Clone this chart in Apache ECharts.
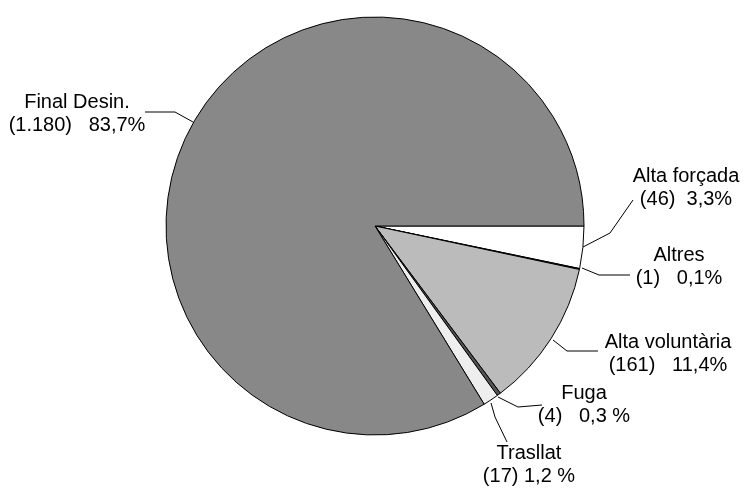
<!DOCTYPE html>
<html>
<head>
<meta charset="utf-8">
<script src="https://cdn.jsdelivr.net/npm/echarts@6/dist/echarts.min.js"></script>
<style>
  html, body { margin: 0; padding: 0; background: #fff; }
  #chart { width: 747px; height: 488px; }
</style>
</head>
<body>
<div id="chart"></div>
<script>
// categories in clockwise order starting at 3 o'clock
const names = ['Alta forçada', 'Altres', 'Alta voluntària', 'Fuga', 'Trasllat', 'Final Desin.'];
const counts = [46, 1, 161, 4, 17, 1180];
const countLabels = ['(46)', '(1)', '(161)', '(4)', '(17)', '(1.180)'];
const pctLabels = ['3,3%', '0,1%', '11,4%', '0,3 %', '1,2 %', '83,7%'];
const gaps = ['  ', '   ', '   ', '   ', ' ', '   '];
const colors = ['#ffffff', '#333333', '#bbbbbb', '#555555', '#eeeeee', '#888888'];

// label placement (centre of text block) and leader line bends
const labelPos = [
    { x: 686, y: 188, line: [[583, 247], [610, 233], [633, 200]] },
    { x: 679, y: 267, line: [[582, 268], [599, 275], [630, 275]] },
    { x: 668, y: 354, line: [[553, 340], [567, 351], [598, 351]] },
    { x: 584, y: 405, line: [[498, 397], [518, 407], [542, 405]] },
    { x: 529, y: 465, line: [[491, 403], [495, 417], [507, 442]] },
    { x: 77, y: 114, line: [[193, 122], [175, 112], [145, 112]] }
];

const chart = echarts.init(document.getElementById('chart'));

const seriesData = names.map((n, i) => ({
    name: n,
    value: counts[i],
    itemStyle: { color: colors[i] }
}));

chart.setOption({
    animation: false,
    textStyle: { fontFamily: 'Liberation Sans, Arial, sans-serif' },
    series: [{
        type: 'pie',
        center: [375, 226],
        radius: 209,
        startAngle: 0,
        clockwise: true,
        minAngle: 0,
        avoidLabelOverlap: false,
        data: seriesData,
        itemStyle: { borderColor: '#000', borderWidth: 1 },
        emphasis: { disabled: true },
        label: {
            show: true,
            position: 'outside',
            color: '#000',
            fontSize: 20,
            lineHeight: 23,
            align: 'center',
            formatter: p => p.name + '\n' + countLabels[p.dataIndex] + gaps[p.dataIndex] + pctLabels[p.dataIndex]
        },
        labelLine: {
            show: true,
            length: 15,
            length2: 20,
            lineStyle: { color: '#000', width: 1 }
        },
        labelLayout: params => {
            const p = labelPos[params.dataIndex];
            return {
                x: p.x,
                y: p.y,
                align: 'center',
                verticalAlign: 'middle',
                labelLinePoints: p.line
            };
        }
    }]
});
</script>
</body>
</html>
